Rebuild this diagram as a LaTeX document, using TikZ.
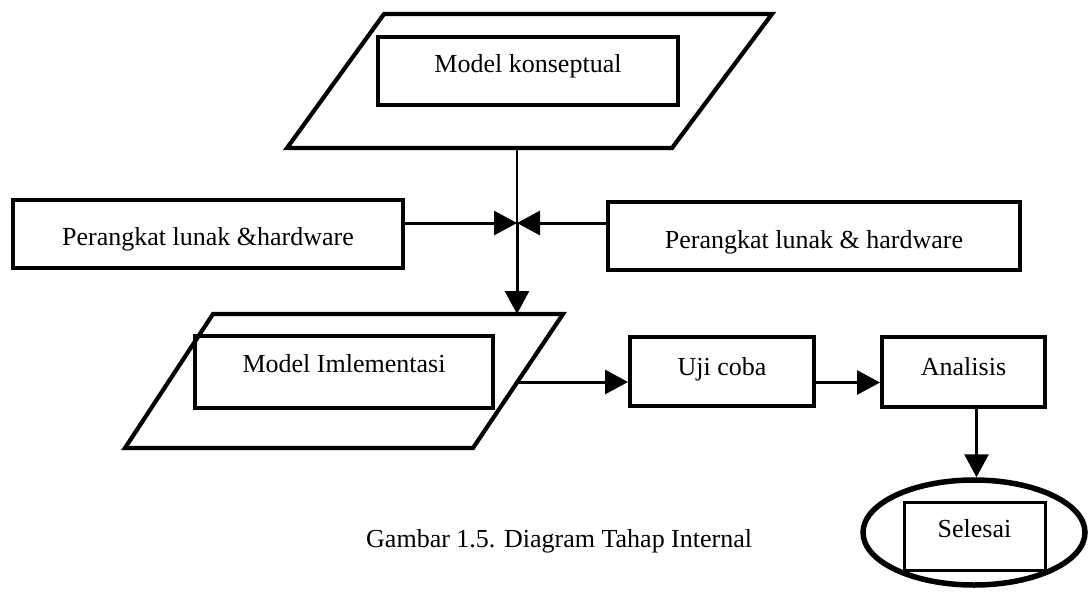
\documentclass[tikz,border=0pt]{standalone}
\usepackage{fontspec}
\setmainfont{Liberation Serif}
\usetikzlibrary{arrows.meta,shapes.geometric}
\newcommand\diafs{\fontsize{26}{30}\selectfont}
\tikzset{
  boxnode/.style={draw, rectangle, line width=4pt, inner sep=0pt},
  lbl/.style={anchor=base, inner sep=0pt, font=\diafs},
  conn/.style={line width=3pt},
  arr/.style={conn, -{Triangle[length=23pt,width=24pt]}},
  para/.style={draw, line width=4.2pt, line join=miter}
}
\begin{document}
\begin{tikzpicture}[x=1pt,y=-1pt]
\useasboundingbox (0,0) rectangle (1091,592);
% top parallelogram
\draw[para] (384,14) -- (772,14) -- (672,148) -- (287,148) -- cycle;
\node[boxnode, minimum width=300pt, minimum height=68pt] (mk) at (528,71) {};
\node[lbl] at ([yshift=-1pt]mk.center) {Model konseptual};
% side boxes
\node[boxnode, minimum width=390pt, minimum height=68pt] (lb) at (208,234) {};
\node[lbl] at ([yshift=-11pt]lb.center) {Perangkat lunak \&hardware};
\node[boxnode, minimum width=412pt, minimum height=68pt] (rb) at (814,236) {};
\node[lbl] at ([yshift=-12pt]rb.center) {Perangkat lunak \& hardware};
% bottom parallelogram
\draw[para] (213,314) -- (563,314) -- (473,448) -- (125,448) -- cycle;
\node[boxnode, minimum width=298pt, minimum height=72pt] (mi) at (344,372) {};
\node[lbl] at (mi.center) {Model Imlementasi};
% process boxes
\node[boxnode, minimum width=184pt, minimum height=69pt] (uji) at (722,371.5) {};
\node[lbl] at ([yshift=-3.5pt]uji.center) {Uji coba};
\node[boxnode, minimum width=163pt, minimum height=70pt] (anal) at (963.5,372) {};
\node[lbl] at ([yshift=-3pt]anal.center) {Analisis};
% end ellipse
\node[draw, ellipse, line width=5.5pt, minimum width=222pt, minimum height=105pt, inner sep=0pt] (el) at (974,532.5) {};
\node[boxnode, line width=3pt, minimum width=141pt, minimum height=68pt] (sel) at (974.5,536) {};
\node[lbl] at ([yshift=-1pt]sel.center) {Selesai};
% caption
\node[lbl, anchor=base west] (cap) at (366,547) {Gambar 1.5. Diagram Tahap Internal};
% connectors
\coordinate (ps) at (517,148);
\coordinate (j) at (517,223);
\coordinate (pt) at (517,314);
\coordinate (pe) at (518,382);
\draw[conn, line width=2.2pt] (ps) -- (j);
\draw[arr] (j) -- (pt);
\draw[arr] (lb.east |- j) -- (j);
\draw[arr] (rb.west |- j) -- (j);
\draw[arr] (pe) -- (uji.west |- pe);
\path ([yshift=-11pt]uji.east) coordinate (u1);
\draw[arr] (u1) -- (u1 -| anal.west);
\path ([xshift=13pt]anal.south) coordinate (a1);
\draw[arr] (a1) -- (a1 |- el.north);
\end{tikzpicture}
\end{document}
